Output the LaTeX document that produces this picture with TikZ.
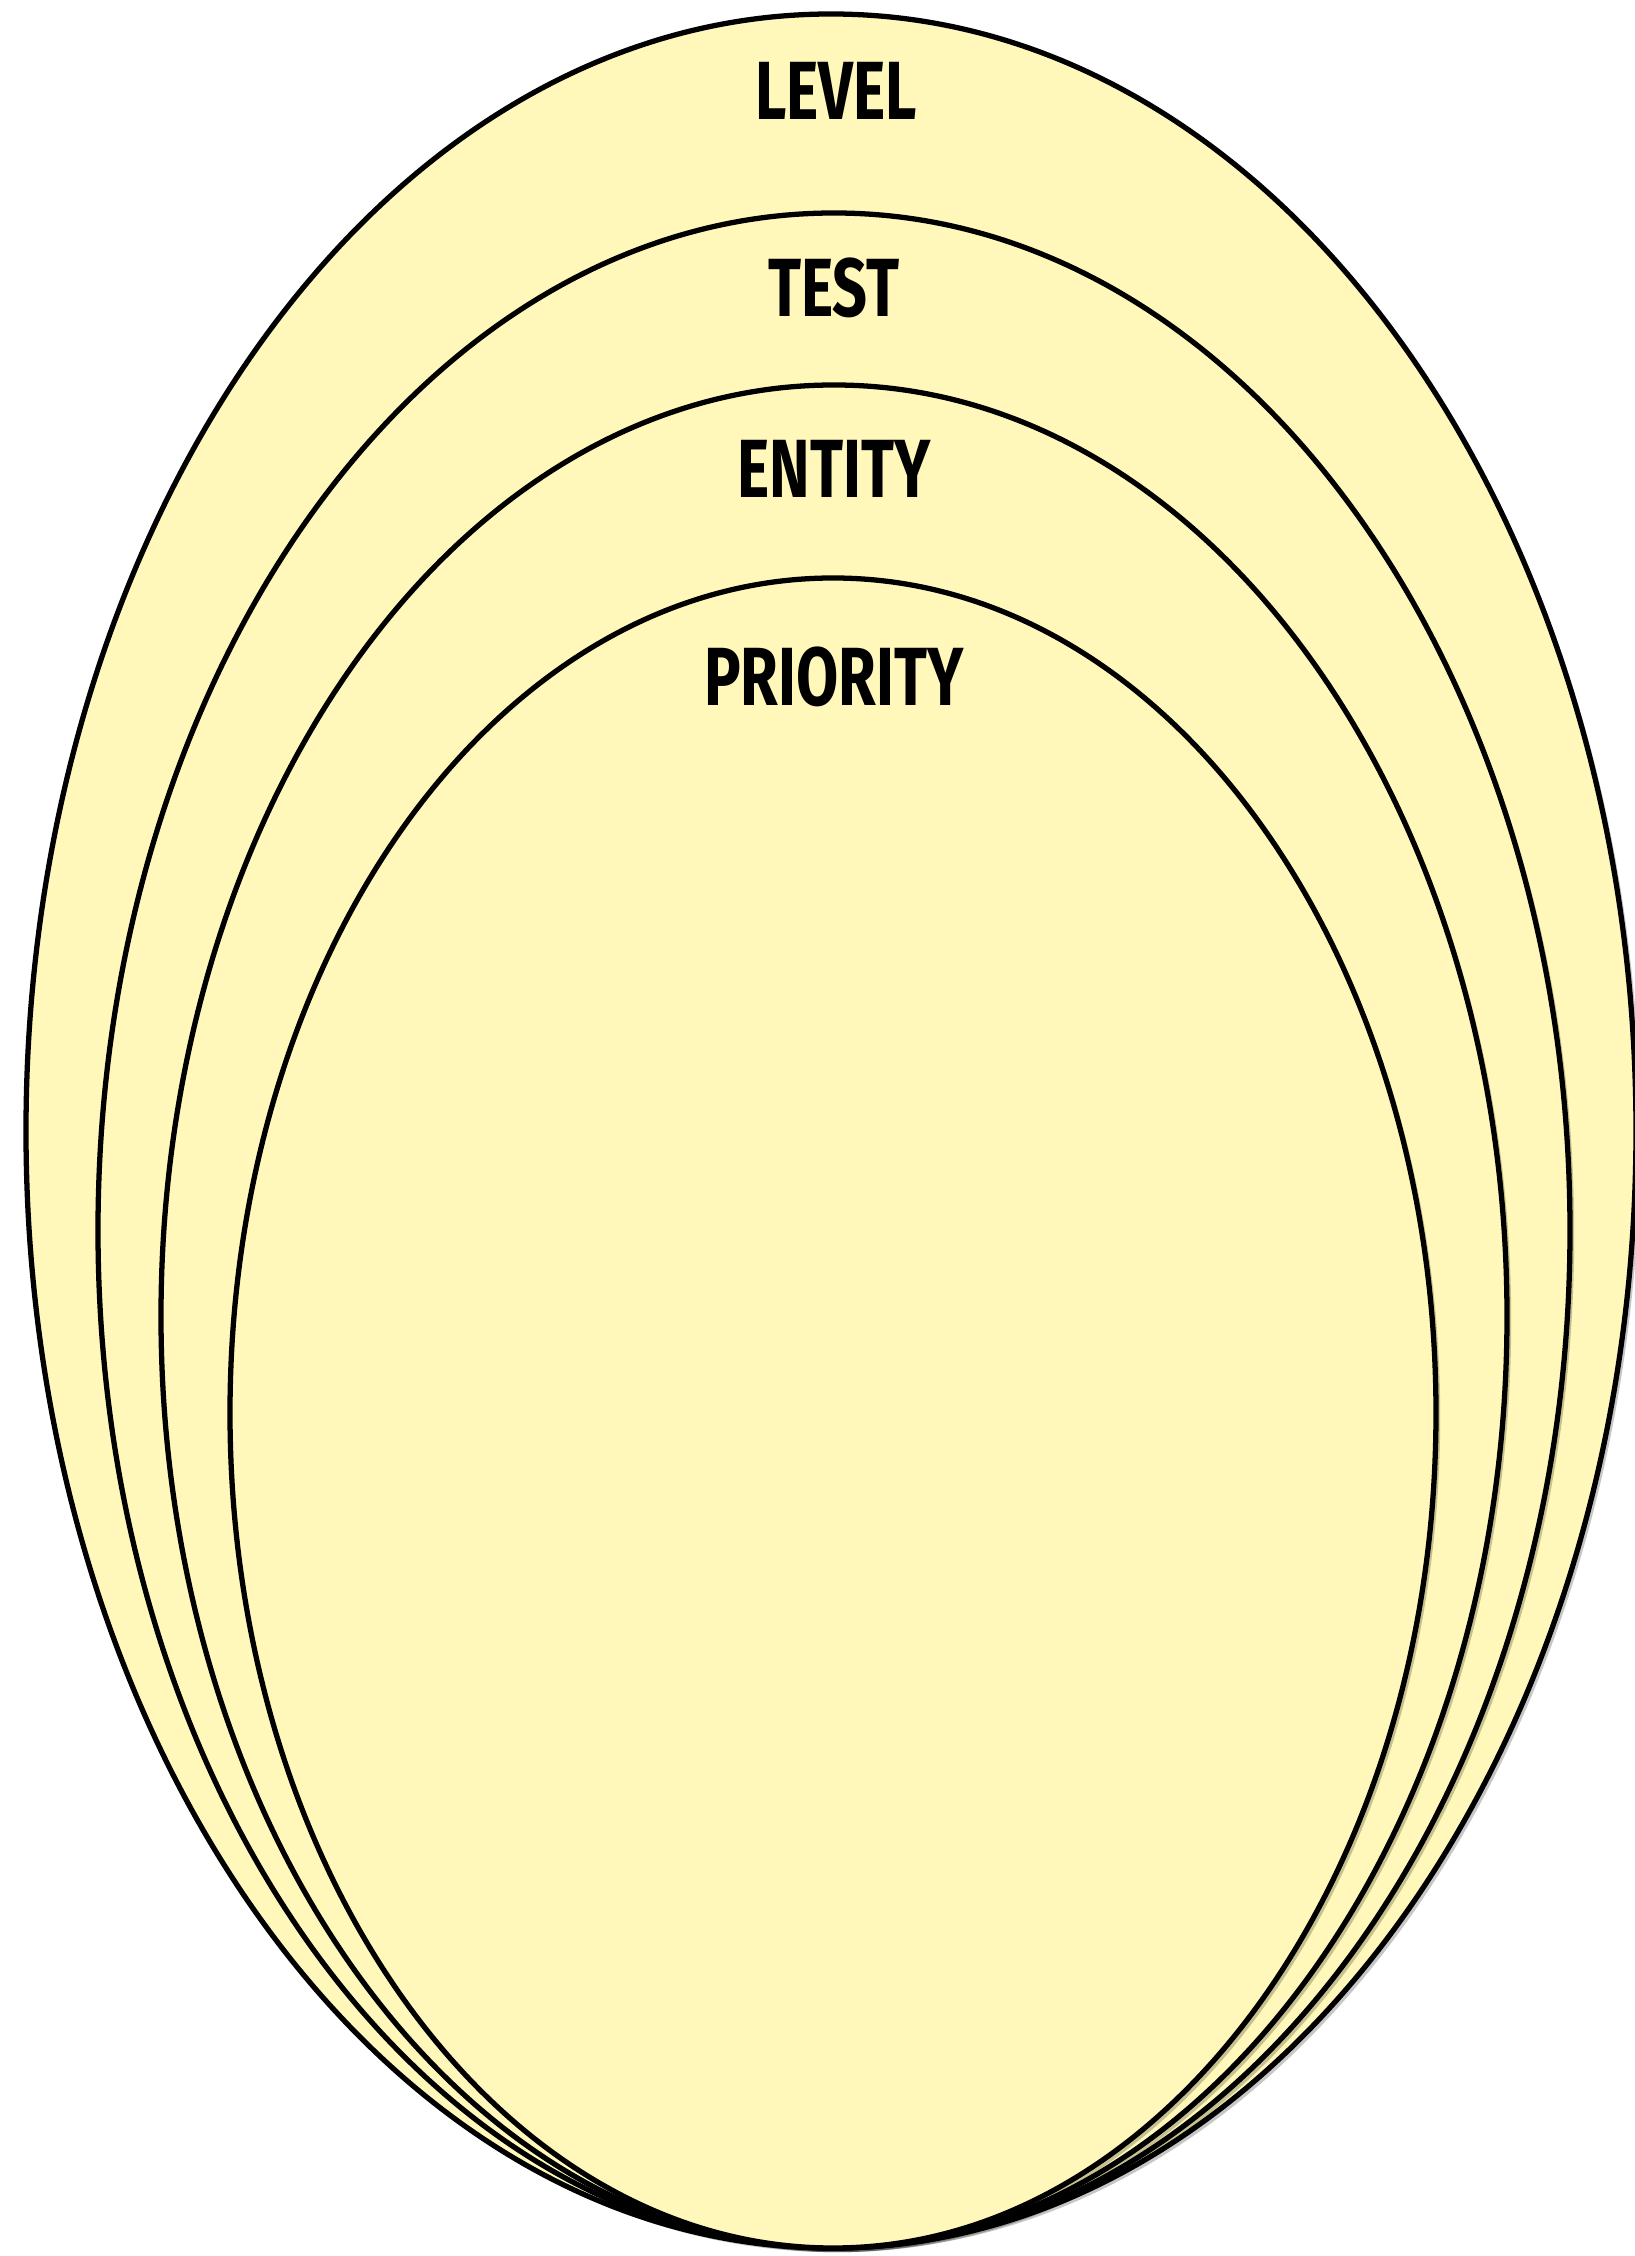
\documentclass[tikz,border=0pt]{standalone}
\usepackage{tikz}
\usepackage{xcolor}
\usepackage{fontspec}
\setmainfont{Fira Sans}
\usetikzlibrary{shapes.geometric, shadows, positioning}
\definecolor{scopeFill}{RGB}{255,248,186}
\definecolor{scopeInk}{RGB}{0,0,0}

\begin{document}
\begin{tikzpicture}[
      ring/.style={ellipse, draw=scopeInk, line width=1.5pt, fill=scopeFill, inner sep=0pt,
      drop shadow={shadow xshift=1.2pt, shadow yshift=-1.2pt, opacity=0.22, fill=black}},
      lbl/.style={inner sep=0pt, font=\fontsize{23.5}{28}\selectfont\bfseries, text=scopeInk}
    ]
    \useasboundingbox (0,0) rectangle (16.35,22.56);
    \node[ring, minimum width=16.10cm, minimum height=22.34cm] (level) at (8.31,11.25) {};
    \node[ring, minimum width=14.72cm, minimum height=20.35cm] (test) at (8.34,10.255) {};
    \node[ring, minimum width=13.46cm, minimum height=18.63cm] (entity) at (8.34,9.395) {};
    \node[ring, minimum width=12.06cm, minimum height=16.70cm] (priority) at (8.33,8.43) {};

    \node[lbl, xscale=0.74, transform shape] (levelname) at (8.36,21.65) {LEVEL};
    \node[lbl, xscale=0.74, transform shape] (testname) at (8.34,19.68) {TEST};
    \node[lbl, xscale=0.74, transform shape] (entityname) at (8.34,17.87) {ENTITY};
    \node[lbl, xscale=0.74, transform shape] (priorityname) at (8.34,15.79) {PRIORITY};
  \end{tikzpicture}
\end{document}
